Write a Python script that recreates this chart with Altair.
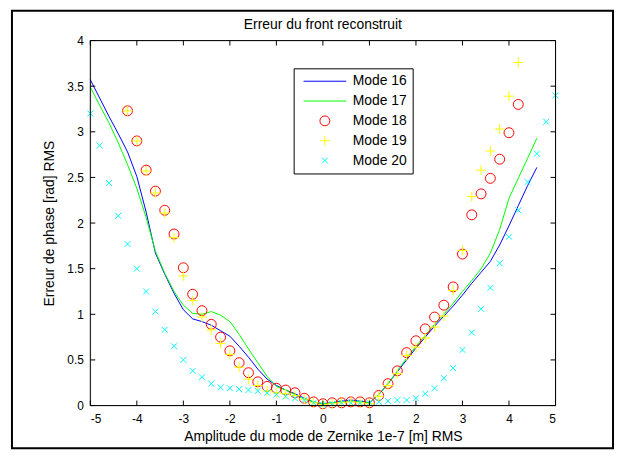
import altair as alt
import pandas as pd

FONT = "Liberation Sans"

# x positions
x_lines = [-5.0, -4.8, -4.6, -4.4, -4.2, -4.0, -3.8, -3.6, -3.4, -3.2, -3.0, -2.8, -2.6, -2.4, -2.2,
           -2.0, -1.8, -1.6, -1.4, -1.2, -1.0, -0.8, -0.6, -0.4, -0.2, 0.0, 0.2, 0.4, 0.6, 0.8,
           1.0, 1.2, 1.4, 1.6, 1.8, 2.0, 2.2, 2.4, 2.6, 2.8, 3.0, 3.2, 3.4, 3.6, 3.8, 4.0, 4.2, 4.4, 4.6]
x_mid = [-4.2, -4.0, -3.8, -3.6, -3.4, -3.2, -3.0, -2.8, -2.6, -2.4, -2.2, -2.0, -1.8, -1.6, -1.4,
         -1.2, -1.0, -0.8, -0.6, -0.4, -0.2, 0.0, 0.2, 0.4, 0.6, 0.8, 1.0, 1.2, 1.4, 1.6, 1.8,
         2.0, 2.2, 2.4, 2.6, 2.8, 3.0, 3.2, 3.4, 3.6, 3.8, 4.0, 4.2]
x_full = [-5.0, -4.8, -4.6, -4.4, -4.2, -4.0, -3.8, -3.6, -3.4, -3.2, -3.0, -2.8, -2.6, -2.4, -2.2,
          -2.0, -1.8, -1.6, -1.4, -1.2, -1.0, -0.8, -0.6, -0.4, -0.2, 0.0, 0.2, 0.4, 0.6, 0.8,
          1.0, 1.2, 1.4, 1.6, 1.8, 2.0, 2.2, 2.4, 2.6, 2.8, 3.0, 3.2, 3.4, 3.6, 3.8, 4.0, 4.2,
          4.4, 4.6, 4.8, 5.0]

mode16 = [3.57, 3.37, 3.17, 2.98, 2.78, 2.51, 2.12, 1.67, 1.44, 1.23, 1.05, 0.95, 0.92, 0.88, 0.82,
          0.76, 0.65, 0.53, 0.40, 0.29, 0.22, 0.17, 0.13, 0.08, 0.04, 0.02, 0.03, 0.05, 0.06, 0.05,
          0.03, 0.12, 0.24, 0.37, 0.50, 0.63, 0.75, 0.87, 0.98, 1.09, 1.21, 1.34, 1.46, 1.58, 1.76,
          1.97, 2.19, 2.41, 2.61]
mode17 = [3.49, 3.29, 3.10, 2.88, 2.64, 2.38, 2.06, 1.69, 1.45, 1.25, 1.10, 1.01, 1.00, 1.03, 0.99,
          0.92, 0.78, 0.62, 0.47, 0.32, 0.21, 0.17, 0.12, 0.07, 0.04, 0.02, 0.03, 0.04, 0.05, 0.04,
          0.03, 0.12, 0.24, 0.38, 0.52, 0.65, 0.77, 0.89, 1.00, 1.12, 1.25, 1.37, 1.50, 1.67, 1.93,
          2.27, 2.49, 2.71, 2.93]
mode18 = [3.23, 2.90, 2.58, 2.35, 2.14, 1.88, 1.51, 1.22, 1.04, 0.89, 0.75, 0.60, 0.47, 0.36, 0.26,
          0.21, 0.19, 0.17, 0.14, 0.08, 0.04, 0.02, 0.03, 0.03, 0.04, 0.04, 0.03, 0.11, 0.24, 0.38,
          0.58, 0.71, 0.84, 0.97, 1.10, 1.30, 1.66, 2.09, 2.32, 2.49, 2.70, 2.99, 3.30]
mode19 = [3.23, 2.90, 2.57, 2.33, 2.11, 1.84, 1.42, 1.15, 0.97, 0.83, 0.68, 0.56, 0.42, 0.29, 0.22,
          0.16, 0.14, 0.13, 0.11, 0.07, 0.03, 0.01, 0.02, 0.03, 0.04, 0.03, 0.02, 0.10, 0.22, 0.35,
          0.55, 0.64, 0.74, 0.86, 0.98, 1.26, 1.70, 2.29, 2.58, 2.79, 3.03, 3.39, 3.76]
mode20 = [3.20, 2.85, 2.44, 2.08, 1.77, 1.50, 1.25, 1.03, 0.83, 0.65, 0.50, 0.38, 0.31, 0.24, 0.20,
          0.19, 0.18, 0.17, 0.16, 0.14, 0.12, 0.10, 0.08, 0.06, 0.03, 0.01, 0.02, 0.03, 0.03, 0.03,
          0.03, 0.04, 0.05, 0.06, 0.06, 0.08, 0.13, 0.19, 0.30, 0.41, 0.61, 0.80, 1.06, 1.29, 1.56,
          1.85, 2.14, 2.45, 2.76, 3.11, 3.40]

modes = ["Mode 16", "Mode 17", "Mode 18", "Mode 19", "Mode 20"]
colors = ["#0000ff", "#00ff00", "#ff0000", "#ffff00", "#00ffff"]
shapes = ["M-4.3,0H4.3", "M-4.3,0H4.3", "circle", "M-1,0H1M0,-1V1",
          "M-0.6,-0.6L0.6,0.6M-0.6,0.6L0.6,-0.6"]
x_ticks = [-5, -4, -3, -2, -1, 0, 1, 2, 3, 4, 5]
y_ticks = [0, 0.5, 1, 1.5, 2, 2.5, 3, 3.5, 4]
title_text = ["Erreur du front reconstruit"]

W, H = 469, 368
TK = 5  # inward tick length


def frame(xs, ys, name):
    return pd.DataFrame({"x": xs, "y": ys, "Mode": name})


df16 = frame(x_lines, mode16, "Mode 16")
df17 = frame(x_lines, mode17, "Mode 17")
df_pts = pd.concat([frame(x_mid, mode18, "Mode 18"), frame(x_mid, mode19, "Mode 19"),
                    frame(x_full, mode20, "Mode 20")], ignore_index=True)
df_xt = pd.DataFrame({"x": x_ticks})
df_yt = pd.DataFrame({"y": y_ticks})
df_title = pd.DataFrame({"title": title_text})

xscale = alt.Scale(domain=[-5, 5], nice=False, zero=False)
yscale = alt.Scale(domain=[0, 4], nice=False, zero=False)
cscale = alt.Scale(domain=modes, range=colors)
sscale = alt.Scale(domain=modes, range=shapes)

legend = alt.Legend(
    title=None, orient="none", legendX=205, legendY=28,
    strokeColor="black", fillColor="white", padding=6,
    labelFont=FONT, labelFontSize=14, labelColor="black",
    rowPadding=6, symbolOffset=18.5, labelOffset=21,
    symbolStrokeWidth=1, symbolSize=100,
)

lab_expr = "'' + datum.value"

x_axis_main = alt.Axis(orient="bottom", values=x_ticks, ticks=False, domain=False, grid=False,
                       labelExpr=lab_expr, labelFont=FONT, labelFontSize=12, labelColor="black",
                       labelPadding=8, title="Amplitude du mode de Zernike 1e-7 [m] RMS",
                       titleFont=FONT, titleFontSize=14, titleFontWeight="normal", titleColor="black",
                       titlePadding=5)
y_axis_main = alt.Axis(orient="left", values=y_ticks, ticks=False, domain=False, grid=False,
                       labelExpr=lab_expr, labelFont=FONT, labelFontSize=12, labelColor="black",
                       labelPadding=7, title="Erreur de phase [rad] RMS",
                       titleFont=FONT, titleFontSize=14, titleFontWeight="normal", titleColor="black",
                       titlePadding=10)

X = alt.X("x:Q", scale=xscale, axis=x_axis_main)
Y = alt.Y("y:Q", scale=yscale, axis=y_axis_main)

line16 = alt.Chart(df16).mark_line(strokeWidth=1, color=colors[0], clip=False).encode(x=X, y=Y)
line17 = alt.Chart(df17).mark_line(strokeWidth=1, color=colors[1], clip=False).encode(x=X, y=Y)

pts = alt.Chart(df_pts).mark_point(filled=False, size=100, strokeWidth=1, opacity=1, clip=False).encode(
    x=X, y=Y,
    color=alt.Color("Mode:N", scale=cscale, legend=legend),
    shape=alt.Shape("Mode:N", scale=sscale, legend=legend),
    order=alt.Order("idx:Q"),
).transform_window(idx="row_number()")

# inward ticks on all four sides of the box
tick_bottom = alt.Chart(df_xt).mark_rule(color="black", strokeWidth=1).encode(
    x=X, y=alt.value(H), y2=alt.value(H - TK))
tick_top = alt.Chart(df_xt).mark_rule(color="black", strokeWidth=1).encode(
    x=X, y=alt.value(0), y2=alt.value(TK))
tick_left = alt.Chart(df_yt).mark_rule(color="black", strokeWidth=1).encode(
    y=Y, x=alt.value(0), x2=alt.value(TK))
tick_right = alt.Chart(df_yt).mark_rule(color="black", strokeWidth=1).encode(
    y=Y, x=alt.value(W), x2=alt.value(W - TK))

# plot box and outer figure frame
box = alt.Chart(df_title).mark_rect(filled=False, stroke="black", strokeWidth=1, clip=False).encode(
    x=alt.value(0), x2=alt.value(W), y=alt.value(0), y2=alt.value(H))
outer = alt.Chart(df_title).mark_rect(filled=False, stroke="black", strokeWidth=2, clip=False).encode(
    x=alt.value(-79), x2=alt.value(527), y=alt.value(-30), y2=alt.value(411))

title = alt.Chart(df_title).mark_text(font=FONT, fontSize=14, color="black", align="center",
                                      baseline="alphabetic").encode(
    text="title:N", x=alt.value(W / 2), y=alt.value(-12))

chart = alt.layer(line16, line17, pts, tick_bottom, tick_top, tick_left, tick_right,
                  box, outer, title).properties(
    width=W, height=H,
    padding={"left": 83, "top": 31, "right": 60, "bottom": 44},
    autosize=alt.AutoSizeParams(type="none"),
).configure_view(stroke="black", strokeWidth=1).configure(background="white")

chart.save("out.html", embed_options={"renderer": "svg", "actions": False})
